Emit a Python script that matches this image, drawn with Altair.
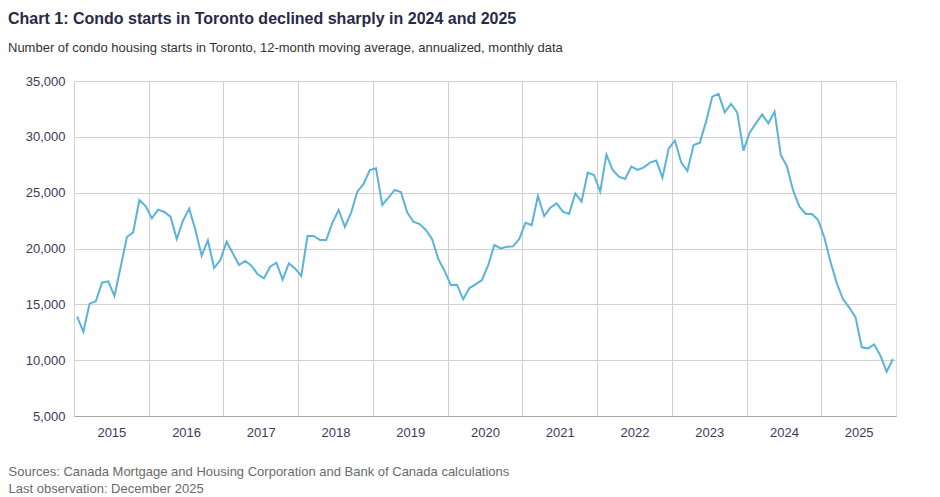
import altair as alt
import pandas as pd

# ---- data ----
years = list(range(2015, 2026))
month_nums = list(range(1, 13))
starts = [
    # 2015
    13900, 12550, 15060, 15270, 16940, 17060, 15750, 18370, 21030, 21450, 24340, 23800,
    # 2016
    22700, 23480, 23270, 22850, 20850, 22490, 23570, 21660, 19360, 20730, 18250, 18970,
    # 2017
    20610, 19570, 18520, 18880, 18460, 17690, 17330, 18370, 18730, 17210, 18670, 18220,
    # 2018
    17540, 21120, 21120, 20760, 20760, 22310, 23450, 21950, 23210, 25090, 25780, 27030,
    # 2019
    27180, 23900, 24550, 25240, 25060, 23240, 22400, 22190, 21660, 20850, 19060, 18010,
    # 2020
    16730, 16760, 15450, 16460, 16790, 17180, 18490, 20310, 20010, 20160, 20190, 20850,
    # 2021
    22310, 22100, 24700, 22910, 23660, 24040, 23300, 23090, 24940, 24190, 26790, 26580,
    # 2022
    25090, 28400, 27030, 26430, 26220, 27330, 27030, 27270, 27690, 27870, 26340, 28970,
    # 2023
    29660, 27720, 26940, 29270, 29480, 31360, 33600, 33840, 32190, 32940, 32190, 28760,
    # 2024
    30370, 31210, 32010, 31210, 32250, 28370, 27330, 25150, 23750, 23090, 23090, 22550,
    # 2025
    20970, 18760, 16880, 15450, 14700, 13840, 11150, 11060, 11420, 10400, 8970, 10100,
]
y_ticks = [5000, 10000, 15000, 20000, 25000, 30000, 35000]

title_text = "Chart 1: Condo starts in Toronto declined sharply in 2024 and 2025"
subtitle_text = "Number of condo housing starts in Toronto, 12-month moving average, annualized, monthly data"
footer_lines = [
    "Sources: Canada Mortgage and Housing Corporation and Bank of Canada calculations",
    "Last observation: December 2025",
]

months = [f"{y}-{m:02d}" for y in years for m in month_nums]
df = pd.DataFrame({"idx": list(range(len(starts))), "month": months, "starts": starts})

n = len(starts)
first_year = years[0]
year_bounds = [12 * k - 0.5 for k in range(len(years))]

W, H = 822, 335
half_year_px = W / n * 6

LABEL = "#3b3b58"

line = alt.Chart(df).mark_line(color="#5BB3DC", strokeWidth=2).encode(
    x=alt.X(
        "idx:Q",
        scale=alt.Scale(domain=[-0.5, n - 0.5], nice=False, zero=False),
        axis=alt.Axis(
            values=year_bounds,
            labelExpr=f"'' + ({first_year} + round((datum.value + 0.5) / 12))",
            labelOffset=half_year_px,
            labelFlush=False,
            labelOverlap=False,
            grid=True,
            gridColor="#d0d0d0",
            ticks=False,
            tickSize=0,
            domainColor="#a8a8a8",
            labelPadding=10,
            labelFontSize=13,
            labelColor=LABEL,
            title=footer_lines,
            titleX=-66,
            titleY=59,
            titleAlign="left",
            titleAnchor="start",
            titleBaseline="alphabetic",
            titleFontSize=13,
            titleFontWeight="normal",
            titleColor="#6a6a6a",
            titleLineHeight=17,
        ),
    ),
    y=alt.Y(
        "starts:Q",
        scale=alt.Scale(domain=[5000, 35000], nice=False, zero=False),
        axis=alt.Axis(
            values=y_ticks,
            format=",d",
            grid=True,
            gridColor="#d0d0d0",
            domain=False,
            ticks=False,
            tickSize=0,
            labelPadding=9,
            labelFontSize=13,
            labelColor=LABEL,
            title=None,
        ),
    ),
).properties(
    width=W,
    height=H,
    padding={"left": 0, "top": 3, "right": 0, "bottom": 0},
    title=alt.TitleParams(
        text=title_text,
        subtitle=subtitle_text,
        anchor="start",
        frame="group",
        dx=-66,
        fontSize=16,
        fontWeight="bold",
        color="#2a2a48",
        subtitleFontSize=13,
        subtitleColor="#333333",
        subtitlePadding=15,
        offset=20,
    ),
)

chart = line.configure_view(stroke="#c8c8c8").configure(font="Liberation Sans")

chart.save("out.html", embed_options={"renderer": "svg", "actions": False})
